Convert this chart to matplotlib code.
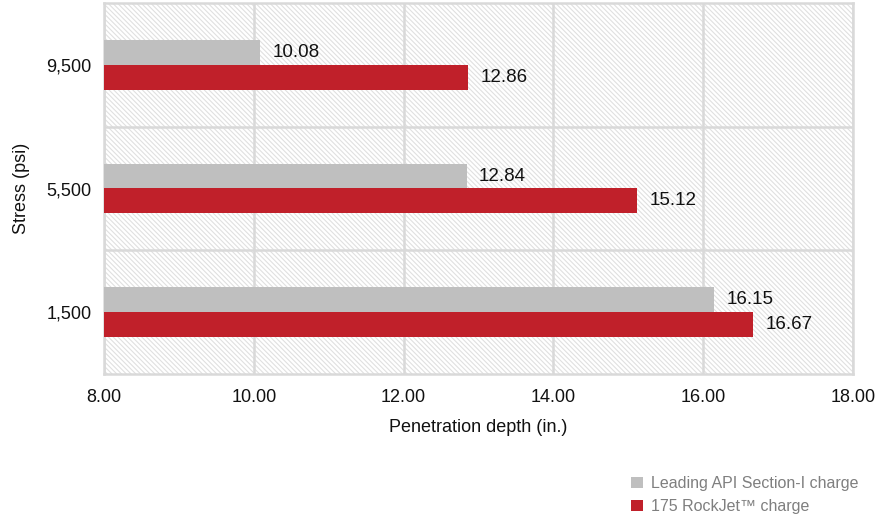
import matplotlib.pyplot as plt
import matplotlib as mpl
from matplotlib.patches import Rectangle, Patch

stress = ['1,500', '5,500', '9,500']
api_charge = [16.15, 12.84, 10.08]
rockjet_charge = [16.67, 15.12, 12.86]
series_names = ['Leading API Section-I charge', '175 RockJet\u2122 charge']

GRAY = '#bfbfbf'
RED = '#c0202a'
LINE = '#d9d9d9'

mpl.rcParams['font.family'] = ['Liberation Sans', 'DejaVu Sans']
mpl.rcParams['font.size'] = 13
mpl.rcParams['hatch.linewidth'] = 0.8

fig = plt.figure(figsize=(8.83, 5.14), dpi=100)
ax = fig.add_axes([104 / 883, 1 - 374 / 514, 749 / 883, 371 / 514])

# hatched background
bg = Rectangle((0, 0), 1, 1, transform=ax.transAxes, facecolor='white',
               edgecolor='#e0e0e0', hatch='\\' * 7, linewidth=0, zorder=0)
ax.add_patch(bg)

y = range(len(stress))
h = 0.2
b1 = ax.barh([i + h / 2 for i in y], api_charge, height=h, color=GRAY, zorder=3)
b2 = ax.barh([i - h / 2 for i in y], rockjet_charge, height=h, color=RED, zorder=3)
ax.bar_label(b1, fmt='%.2f', padding=9, fontsize=13.5, color='#111111')
ax.bar_label(b2, fmt='%.2f', padding=9, fontsize=13.5, color='#111111')

ax.set_xlim(8, 18)
ax.set_ylim(-0.5, 2.5)
ax.set_xticks([8, 10, 12, 14, 16, 18])
ax.set_xticklabels([f'{v:.2f}' for v in [8, 10, 12, 14, 16, 18]])
ax.set_yticks(list(y))
ax.set_yticklabels(stress)
ax.set_yticks([0.5, 1.5], minor=True)
ax.tick_params(which='both', length=0)
ax.tick_params(axis='x', pad=11, labelsize=13, labelcolor='#111111')
ax.tick_params(axis='y', pad=9, labelsize=13, labelcolor='#111111')

ax.grid(axis='x', which='major', color=LINE, linewidth=1.8, zorder=1)
ax.grid(axis='y', which='minor', color=LINE, linewidth=1.8, zorder=1)
ax.set_axisbelow(True)
for s in ax.spines.values():
    s.set_color(LINE)
    s.set_linewidth(1.8)

ax.set_xlabel('Penetration depth (in.)', fontsize=13, labelpad=9, color='#111111')
ax.set_ylabel('Stress (psi)', fontsize=13, labelpad=12, color='#111111')

handles = [Patch(facecolor=GRAY), Patch(facecolor=RED)]
fig.legend(handles, series_names, loc='upper left',
           bbox_to_anchor=(617 / 883, 1 - 462 / 514), frameon=False,
           handlelength=0.7, handleheight=0.7, handletextpad=0.5,
           labelspacing=0.5, fontsize=11.5, labelcolor='#7f7f7f')

fig.savefig('out.png', dpi=100)
